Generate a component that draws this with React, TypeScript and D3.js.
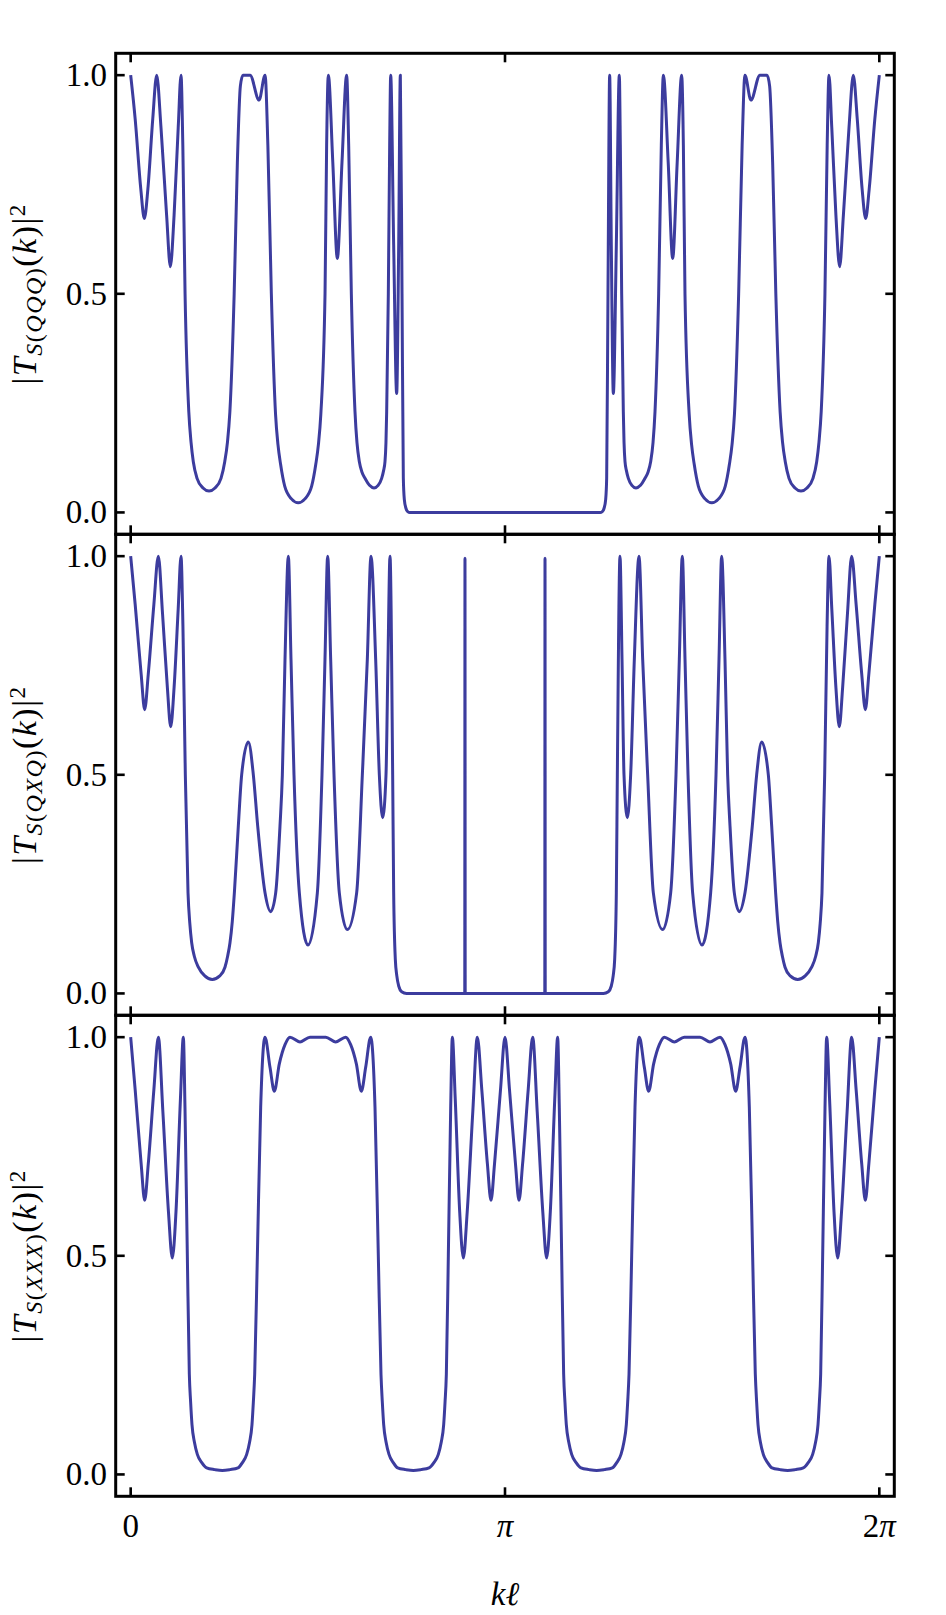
import * as d3 from 'd3'

// |T(k)|^2; first value is kℓ in units of π
const qqq: [number, number][] = [
  [0, 1], [0.012, 0.9], [0.027, 0.74], [0.0365, 0.672], [0.046, 0.74], [0.059, 0.9], [0.0695, 1],
  [0.081, 0.88], [0.096, 0.68], [0.106, 0.562], [0.116, 0.68], [0.127, 0.88], [0.1345, 1],
  [0.1393, 0.84], [0.1453, 0.5], [0.1553, 0.23], [0.1613, 0.16], [0.1673, 0.116], [0.1773, 0.078],
  [0.1933, 0.056], [0.2093, 0.049], [0.2253, 0.056], [0.2413, 0.078], [0.2513, 0.116], [0.2585, 0.16],
  [0.265, 0.23], [0.2765, 0.5], [0.285, 0.8], [0.293, 0.975], [0.3, 1],
  [0.319, 1], [0.343, 0.943], [0.359, 1],
  [0.3665, 0.84], [0.3758, 0.5], [0.387, 0.225], [0.3935, 0.155], [0.4005, 0.11], [0.4115, 0.06],
  [0.4295, 0.031], [0.4475, 0.022], [0.4655, 0.031], [0.4835, 0.06], [0.4945, 0.11], [0.5015, 0.155],
  [0.508, 0.225], [0.5192, 0.5], [0.5235, 0.84], [0.528, 1],
  [0.54, 0.8], [0.5521, 0.581], [0.5645, 0.8], [0.577, 1],
  [0.5824, 0.84], [0.5895, 0.5], [0.5993, 0.23], [0.6045, 0.16], [0.6109, 0.116], [0.618, 0.092],
  [0.626, 0.078], [0.638, 0.062], [0.65, 0.056], [0.661, 0.062], [0.6705, 0.078], [0.6755, 0.095],
  [0.6794, 0.116], [0.682, 0.16], [0.6839, 0.23], [0.6883, 0.5], [0.6919, 0.84], [0.6946, 1],
  [0.7026, 0.611], [0.7106, 0.272], [0.716, 0.611], [0.7204, 1],
  [0.7249, 0.5], [0.7284, 0.078], [0.731, 0.03], [0.7355, 0.009], [0.74, 0.002], [0.746, 0],
  [1.254, 0], [1.26, 0.002], [1.2645, 0.009], [1.269, 0.03], [1.2716, 0.078], [1.2751, 0.5],
  [1.2796, 1], [1.284, 0.611], [1.2894, 0.272], [1.2974, 0.611], [1.3054, 1],
  [1.3081, 0.84], [1.3117, 0.5], [1.3161, 0.23], [1.318, 0.16], [1.3206, 0.116], [1.3245, 0.095],
  [1.3295, 0.078], [1.339, 0.062], [1.35, 0.056], [1.362, 0.062], [1.374, 0.078], [1.382, 0.092],
  [1.3891, 0.116], [1.3955, 0.16], [1.4007, 0.23], [1.4105, 0.5], [1.4176, 0.84], [1.423, 1],
  [1.436, 0.8], [1.4479, 0.581], [1.46, 0.8], [1.472, 1],
  [1.4765, 0.84], [1.4808, 0.5], [1.492, 0.225], [1.4985, 0.155], [1.5055, 0.11], [1.5165, 0.06],
  [1.5345, 0.031], [1.5525, 0.022], [1.5705, 0.031], [1.5885, 0.06], [1.5995, 0.11], [1.6065, 0.155],
  [1.613, 0.225], [1.6242, 0.5], [1.6335, 0.84], [1.641, 1],
  [1.657, 0.943], [1.681, 1], [1.7, 1],
  [1.707, 0.975], [1.715, 0.8], [1.7235, 0.5], [1.735, 0.23], [1.7415, 0.16], [1.7487, 0.116],
  [1.7587, 0.078], [1.7747, 0.056], [1.7907, 0.049], [1.8067, 0.056], [1.8227, 0.078], [1.8327, 0.116],
  [1.8387, 0.16], [1.8447, 0.23], [1.8547, 0.5], [1.8607, 0.84], [1.8655, 1],
  [1.873, 0.88], [1.884, 0.68], [1.894, 0.562], [1.904, 0.68], [1.919, 0.88], [1.9305, 1],
  [1.941, 0.9], [1.954, 0.74], [1.9635, 0.672], [1.973, 0.74], [1.988, 0.9], [2, 1],
]

const qxq: [number, number][] = [
  [0, 1], [0.012, 0.89], [0.028, 0.73], [0.0374, 0.649], [0.047, 0.73], [0.062, 0.89], [0.0739, 1],
  [0.085, 0.87], [0.098, 0.7], [0.1069, 0.61], [0.116, 0.7], [0.127, 0.88], [0.1345, 1],
  [0.1396, 0.84], [0.146, 0.5], [0.1532, 0.23], [0.158, 0.16], [0.163, 0.116], [0.17, 0.085],
  [0.1808, 0.06], [0.198, 0.04], [0.218, 0.032], [0.238, 0.04], [0.2519, 0.06], [0.259, 0.085],
  [0.2653, 0.116], [0.2715, 0.165], [0.277, 0.23], [0.2876, 0.383], [0.2965, 0.5], [0.3143, 0.575],
  [0.3277, 0.5], [0.3393, 0.383], [0.3589, 0.23], [0.374, 0.187], [0.3874, 0.23], [0.3989, 0.383],
  [0.4052, 0.5], [0.4123, 0.764], [0.4212, 1],
  [0.4283, 0.764], [0.4363, 0.5], [0.4506, 0.23], [0.4737, 0.1105], [0.4987, 0.23], [0.5111, 0.5],
  [0.5191, 0.764], [0.5263, 1],
  [0.5343, 0.764], [0.5432, 0.5], [0.5574, 0.23], [0.5788, 0.146], [0.6037, 0.23], [0.6189, 0.5],
  [0.6322, 0.764], [0.642, 1],
  [0.6545, 0.764], [0.6643, 0.5], [0.6732, 0.402], [0.6821, 0.5], [0.6874, 0.764], [0.6928, 1],
  [0.6999, 0.5], [0.7026, 0.23], [0.707, 0.078], [0.711, 0.04], [0.716, 0.017], [0.724, 0.004], [0.737, 0],
  [0.8925, 0], [0.8931, 0.995], [0.8937, 0],
  [1.1063, 0], [1.1069, 0.995], [1.1075, 0],
  [1.263, 0], [1.276, 0.004], [1.284, 0.017], [1.289, 0.04], [1.293, 0.078], [1.2974, 0.23],
  [1.3001, 0.5], [1.3072, 1],
  [1.3126, 0.764], [1.3179, 0.5], [1.3268, 0.402], [1.3357, 0.5], [1.3455, 0.764], [1.358, 1],
  [1.3678, 0.764], [1.3811, 0.5], [1.3963, 0.23], [1.4212, 0.146], [1.4426, 0.23], [1.4568, 0.5],
  [1.4657, 0.764], [1.4737, 1],
  [1.4809, 0.764], [1.4889, 0.5], [1.5013, 0.23], [1.5263, 0.1105], [1.5494, 0.23], [1.5637, 0.5],
  [1.5717, 0.764], [1.5788, 1],
  [1.5877, 0.764], [1.5948, 0.5], [1.6011, 0.383], [1.6126, 0.23], [1.626, 0.187], [1.6411, 0.23],
  [1.6607, 0.383], [1.6723, 0.5], [1.6857, 0.575],
  [1.7035, 0.5], [1.7124, 0.383], [1.723, 0.23], [1.7285, 0.165], [1.7347, 0.116], [1.741, 0.085],
  [1.7481, 0.06], [1.762, 0.04], [1.782, 0.032], [1.802, 0.04], [1.8192, 0.06], [1.83, 0.085],
  [1.837, 0.116], [1.842, 0.16], [1.8468, 0.23], [1.854, 0.5], [1.8604, 0.84], [1.8655, 1],
  [1.873, 0.88], [1.884, 0.7], [1.8931, 0.61], [1.902, 0.7], [1.915, 0.87], [1.9261, 1],
  [1.938, 0.89], [1.953, 0.73], [1.9626, 0.649], [1.972, 0.73], [1.988, 0.89], [2, 1],
]

const xxx: [number, number][] = [
  [0, 1], [0.012, 0.88], [0.028, 0.71], [0.0374, 0.627], [0.047, 0.71], [0.062, 0.88], [0.0739, 1],
  [0.086, 0.83], [0.101, 0.6], [0.1113, 0.495], [0.121, 0.6], [0.133, 0.86], [0.1407, 1],
  [0.1451, 0.838], [0.1514, 0.499], [0.1567, 0.229], [0.1602, 0.165], [0.1638, 0.114], [0.1705, 0.073],
  [0.1781, 0.046], [0.19, 0.027], [0.203, 0.015], [0.2245, 0.011], [0.2449, 0.009], [0.2653, 0.011],
  [0.2867, 0.015], [0.2985, 0.027], [0.3099, 0.046], [0.3175, 0.073], [0.3241, 0.114], [0.3277, 0.165],
  [0.3313, 0.229], [0.3384, 0.499], [0.3473, 0.84], [0.3589, 1],
  [0.3722, 0.931], [0.3838, 0.8765], [0.3971, 0.939], [0.4123, 0.983], [0.4256, 1], [0.4524, 0.989],
  [0.479, 1], [0.5, 1], [0.521, 1], [0.5476, 0.989], [0.5744, 1], [0.5877, 0.983], [0.6029, 0.939],
  [0.6162, 0.8765], [0.6278, 0.931], [0.6411, 1],
  [0.6527, 0.84], [0.6616, 0.499], [0.6687, 0.229], [0.6723, 0.165], [0.6759, 0.114], [0.6825, 0.073],
  [0.6901, 0.046], [0.7015, 0.027], [0.7133, 0.015], [0.7347, 0.011], [0.7551, 0.009], [0.7755, 0.011],
  [0.797, 0.015], [0.81, 0.027], [0.8219, 0.046], [0.8295, 0.073], [0.8362, 0.114], [0.8398, 0.165],
  [0.8433, 0.229], [0.8486, 0.499], [0.8549, 0.838], [0.8593, 1],
  [0.867, 0.86], [0.879, 0.6], [0.8887, 0.495], [0.899, 0.6], [0.914, 0.83], [0.9261, 1],
  [0.938, 0.88], [0.953, 0.71], [0.9626, 0.627], [0.972, 0.71], [0.988, 0.88], [1, 1],
  [1.012, 0.88], [1.028, 0.71], [1.0374, 0.627], [1.047, 0.71], [1.062, 0.88], [1.0739, 1],
  [1.086, 0.83], [1.101, 0.6], [1.1113, 0.495], [1.121, 0.6], [1.133, 0.86], [1.1407, 1],
  [1.1451, 0.838], [1.1514, 0.499], [1.1567, 0.229], [1.1602, 0.165], [1.1638, 0.114], [1.1705, 0.073],
  [1.1781, 0.046], [1.19, 0.027], [1.203, 0.015], [1.2245, 0.011], [1.2449, 0.009], [1.2653, 0.011],
  [1.2867, 0.015], [1.2985, 0.027], [1.3099, 0.046], [1.3175, 0.073], [1.3241, 0.114], [1.3277, 0.165],
  [1.3313, 0.229], [1.3384, 0.499], [1.3473, 0.84], [1.3589, 1],
  [1.3722, 0.931], [1.3838, 0.8765], [1.3971, 0.939], [1.4123, 0.983], [1.4256, 1], [1.4524, 0.989],
  [1.479, 1], [1.5, 1], [1.521, 1], [1.5476, 0.989], [1.5744, 1], [1.5877, 0.983], [1.6029, 0.939],
  [1.6162, 0.8765], [1.6278, 0.931], [1.6411, 1],
  [1.6527, 0.84], [1.6616, 0.499], [1.6687, 0.229], [1.6723, 0.165], [1.6759, 0.114], [1.6825, 0.073],
  [1.6901, 0.046], [1.7015, 0.027], [1.7133, 0.015], [1.7347, 0.011], [1.7551, 0.009], [1.7755, 0.011],
  [1.797, 0.015], [1.81, 0.027], [1.8219, 0.046], [1.8295, 0.073], [1.8362, 0.114], [1.8398, 0.165],
  [1.8433, 0.229], [1.8486, 0.499], [1.8549, 0.838], [1.8593, 1],
  [1.867, 0.86], [1.879, 0.6], [1.8887, 0.495], [1.899, 0.6], [1.914, 0.83], [1.9261, 1],
  [1.938, 0.88], [1.953, 0.71], [1.9626, 0.627], [1.972, 0.71], [1.988, 0.88], [2, 1],
]

const subscripts = ['QQQ', 'QXQ', 'XXX']
const yTicks = [0, 0.5, 1]
const yTickLabels = ['0.0', '0.5', '1.0']
const xTicks = [0, 1, 2]
const xTickPrefix = ['0', '', '2']
const xTickPi = ['', 'π', 'π']

const LINE = '#3c3c9e'
const FONT = "'Liberation Serif', 'DejaVu Serif', serif"

export default function App() {
  const width = 946
  const height = 1615
  const left = 115.7
  const right = 894.3
  const top = 53.3
  const panelH = 481
  const tick = 9

  const x = d3.scaleLinear().domain([-0.04, 2.04]).range([left, right])
  const series = [qqq, qxq, xxx]

  return (
    <svg
      width={width}
      height={height}
      viewBox={`0 0 ${width} ${height}`}
      style={{position: 'absolute', left: 0, top: 0, background: '#fff'}}
      fontFamily={FONT}
    >
      {series.map((data, i) => {
        const y0 = top + i * panelH
        const y = d3.scaleLinear().domain([-0.05, 1.05]).range([y0 + panelH, y0])
        const line = d3.line<[number, number]>()
          .x(d => x(d[0]))
          .y(d => y(d[1]))
          .curve(d3.curveMonotoneX)
        const cy = y0 + panelH / 2
        return (
          <g key={subscripts[i]}>
            <path d={line(data) ?? undefined} fill="none" stroke={LINE} strokeWidth={3} strokeLinejoin="round" />
            <g stroke="#000" strokeWidth={2.6}>
              {yTicks.map(t => (
                <g key={t}>
                  <line x1={left} x2={left + tick} y1={y(t)} y2={y(t)} />
                  <line x1={right - tick} x2={right} y1={y(t)} y2={y(t)} />
                </g>
              ))}
              {xTicks.map(t => (
                <g key={t}>
                  <line x1={x(t)} x2={x(t)} y1={y0} y2={y0 + tick} />
                  <line x1={x(t)} x2={x(t)} y1={y0 + panelH - tick} y2={y0 + panelH} />
                </g>
              ))}
            </g>
            <rect x={left} y={y0} width={right - left} height={panelH} fill="none" stroke="#000" strokeWidth={3} />
            <g fontSize={33} textAnchor="end" fill="#000">
              {yTicks.map((t, j) => (
                <text key={t} x={107} y={y(t) + 11}>{yTickLabels[j]}</text>
              ))}
            </g>
            <text
              transform={`translate(36, ${cy}) rotate(-90)`}
              textAnchor="middle"
              fontSize={34}
              letterSpacing={1.5}
              fill="#000"
            >
              <tspan>|</tspan>
              <tspan fontStyle="italic">T</tspan>
              <tspan fontSize={24} dy={6}>
                <tspan fontStyle="italic">S</tspan>
                <tspan>(</tspan>
                <tspan fontStyle="italic">{subscripts[i]}</tspan>
                <tspan>)</tspan>
              </tspan>
              <tspan dy={-6}>(</tspan>
              <tspan fontStyle="italic">k</tspan>
              <tspan>)|</tspan>
              <tspan fontSize={23} dy={-11}>2</tspan>
            </text>
          </g>
        )
      })}
      <g fontSize={33} textAnchor="middle" fill="#000">
        {xTicks.map((t, j) => (
          <text key={t} x={x(t)} y={1537}>
            {xTickPrefix[j]}
            <tspan fontStyle="italic">{xTickPi[j]}</tspan>
          </text>
        ))}
        <text x={x(1)} y={1605} fontStyle="italic">kℓ</text>
      </g>
    </svg>
  )
}
